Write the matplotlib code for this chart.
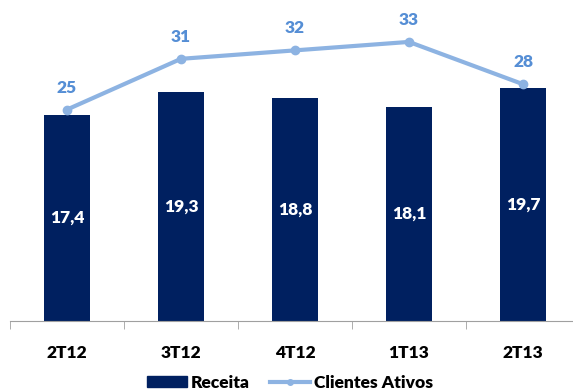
import numpy as np
import matplotlib.pyplot as plt
from matplotlib.patches import Patch
from matplotlib.lines import Line2D

plt.rcParams['font.family'] = ['Lato', 'DejaVu Sans']

# dados
trimestres = ["2T12", "3T12", "4T12", "1T13", "2T13"]
receita = [17.4, 19.3, 18.8, 18.1, 19.7]
clientes = [25, 31, 32, 33, 28]

cor_barra = "#002060"
cor_linha = "#8db3e2"
cor_rotulo = "#558ed5"

fig = plt.figure(figsize=(5.73, 3.92), dpi=100)
ax = fig.add_axes([10 / 573, 71 / 392, 570 / 573, 296 / 392])
x = np.arange(len(trimestres))

ax.bar(x, receita, width=0.4, color=cor_barra, zorder=2)
for xi, v in zip(x, receita):
    ax.text(xi, v / 2, f"{v:.1f}".replace(".", ","), ha="center", va="center",
            color="white", fontsize=12.5, fontweight="heavy")

ax.set_xlim(-0.5, len(trimestres) - 0.5)
ax.set_ylim(0, 25)
ax.set_yticks([])
for s in ["left", "right", "top"]:
    ax.spines[s].set_visible(False)
ax.spines["bottom"].set_color("#a0a0a0")
ax.set_xticks(x)
ax.set_xticklabels(trimestres, fontsize=12.5, fontweight="heavy")
ax.tick_params(axis="x", which="major", length=0, pad=17)
ax.set_xticks(np.arange(-0.5, len(trimestres), 1), minor=True)
ax.tick_params(axis="x", which="minor", length=6, color="#a0a0a0")

ax2 = ax.twinx()
ax2.plot(x, clientes, color=cor_linha, lw=3, marker="o", ms=6, zorder=3)
for xi, v in zip(x, clientes):
    ax2.annotate(str(v), (xi, v), xytext=(0, 10), textcoords="offset points",
                 ha="center", va="bottom", color=cor_rotulo, fontsize=12.5,
                 fontweight="heavy")
ax2.set_ylim(0, 35)
ax2.set_yticks([])
for s in ["left", "right", "top", "bottom"]:
    ax2.spines[s].set_visible(False)

handles = [Patch(color=cor_barra),
           Line2D([0], [0], color=cor_linha, lw=3, marker="o", ms=4)]
fig.legend(handles, ["Receita", "Clientes Ativos"], loc="center",
           bbox_to_anchor=(290 / 573, 1 - 383 / 392), ncol=2, frameon=False,
           prop={"size": 12.5, "weight": "heavy"}, handlelength=2.3,
           handleheight=0.6, columnspacing=1.2, handletextpad=0.2)

fig.savefig("out.png", dpi=100)
